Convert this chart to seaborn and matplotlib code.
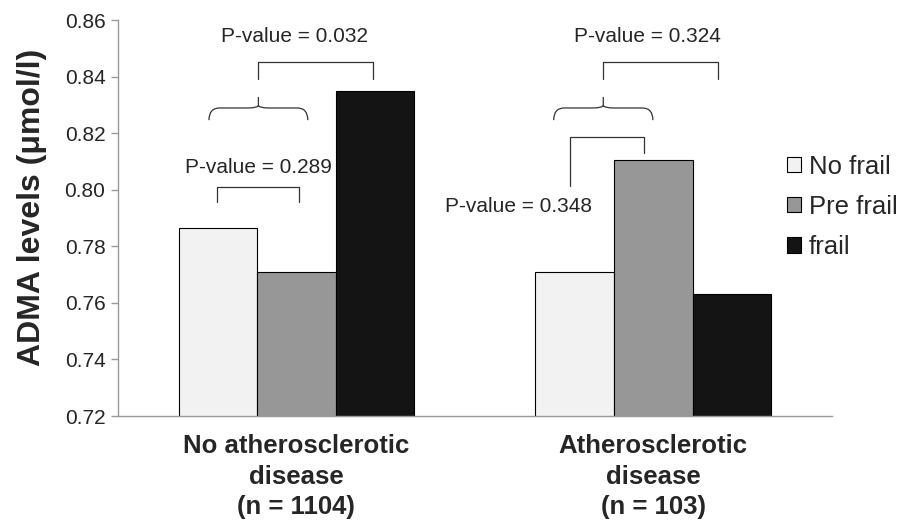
import numpy as np
import pandas as pd
import matplotlib
matplotlib.use('Agg')
import matplotlib.pyplot as plt
from matplotlib.path import Path
from matplotlib.patches import PathPatch
import seaborn as sns

# data
groups = ['No atherosclerotic\ndisease\n(n = 1104)', 'Atherosclerotic\ndisease\n(n = 103)']
status = ['No frail', 'Pre frail', 'frail']
adma_no_ath = [0.7865, 0.771, 0.835]
adma_ath = [0.771, 0.8105, 0.763]
colors = ['#f2f2f2', '#979797', '#141414']

pvals = ['P-value = 0.289', 'P-value = 0.032', 'P-value = 0.324', 'P-value = 0.348']

df = pd.DataFrame({
    'group': np.repeat(groups, 3),
    'status': status * 2,
    'adma': adma_no_ath + adma_ath,
})

sns.set_style('white')
plt.rcParams['font.family'] = ['Liberation Sans', 'DejaVu Sans']

fig = plt.figure(figsize=(9.04, 5.21), dpi=100)
ax = fig.add_axes([0.1305, 0.2015, 0.7895, 0.7601])

sns.barplot(data=df, x='group', y='adma', hue='status', palette=colors,
            edgecolor='black', linewidth=0.8, width=0.66, gap=0, ax=ax)

ax.set_ylim(0.72, 0.86)
ax.set_xlim(-0.5, 1.5)
ax.set_yticks(np.arange(0.72, 0.861, 0.02))
ax.set_yticklabels([f'{v:.2f}' for v in np.arange(0.72, 0.861, 0.02)], fontsize=15)
ax.set_ylabel('ADMA levels (μmol/l)', fontsize=23, fontweight='bold')
ax.yaxis.set_label_coords(-0.1, 0.528)
ax.set_xlabel('')
ax.set_xticks([0, 1])
ax.set_xticklabels(groups, fontsize=18.5, fontweight='bold', linespacing=1.35)
ax.tick_params(axis='x', length=0, pad=13)
ax.set_xticks([-0.5, 0.5, 1.5], minor=True)
ax.tick_params(axis='x', which='minor', length=6, color='#999999', width=1)
ax.tick_params(axis='y', length=5, color='#999999', width=1, pad=4, left=True)
for s in ['top', 'right']:
    ax.spines[s].set_visible(False)
for s in ['left', 'bottom']:
    ax.spines[s].set_color('#999999')
    ax.spines[s].set_linewidth(1)

sns.move_legend(ax, loc='upper left', bbox_to_anchor=(0.937, 0.66), frameon=False,
                title=None, fontsize=18.5, handlelength=0.55, handleheight=0.55,
                handletextpad=0.3, labelspacing=0.63, borderaxespad=0, borderpad=0)

lc = '#333333'
lw = 0.9


def bracket(x0, x1, ytop, yl, yr):
    ax.plot([x0, x0, x1, x1], [yl, ytop, ytop, yr], color=lc, lw=lw, clip_on=False)


def brace(x0, x1, yh, yend, ytip):
    xc = (x0 + x1) / 2
    d = 0.03
    r = (yh - yend) * 0.4
    verts = [(x0, yend), (x0, yh), (x0 + d, yh),
             (xc - d, yh), (xc, yh), (xc, yh + r * 0.6),
             (xc, ytip),
             (xc, yh + r * 0.6), (xc, yh), (xc + d, yh),
             (x1 - d, yh), (x1, yh), (x1, yend)]
    codes = [Path.MOVETO, Path.CURVE3, Path.CURVE3,
             Path.LINETO, Path.CURVE3, Path.CURVE3,
             Path.LINETO,
             Path.MOVETO, Path.CURVE3, Path.CURVE3,
             Path.LINETO, Path.CURVE3, Path.CURVE3]
    ax.add_patch(PathPatch(Path(verts, codes), fill=False, ec=lc, lw=lw))
    return xc


# group 1
bracket(-0.222, 0.007, 0.801, 0.7957, 0.7957)
ax.text(-0.105, 0.8077, pvals[0], ha='center', va='center', fontsize=15)
xc = brace(-0.245, 0.032, 0.8289, 0.8246, 0.8328)
bracket(xc, 0.214, 0.8451, 0.8391, 0.8391)
ax.text(-0.004, 0.854, pvals[1], ha='center', va='center', fontsize=15)

# group 2
xc = brace(0.721, 0.999, 0.8289, 0.8246, 0.8328)
bracket(xc, 1.181, 0.8451, 0.8391, 0.8391)
ax.text(0.985, 0.854, pvals[2], ha='center', va='center', fontsize=15)
bracket(0.766, 0.973, 0.8186, 0.8013, 0.813)
ax.text(0.623, 0.7939, pvals[3], ha='center', va='center', fontsize=15)

fig.savefig('out.png', dpi=100)
